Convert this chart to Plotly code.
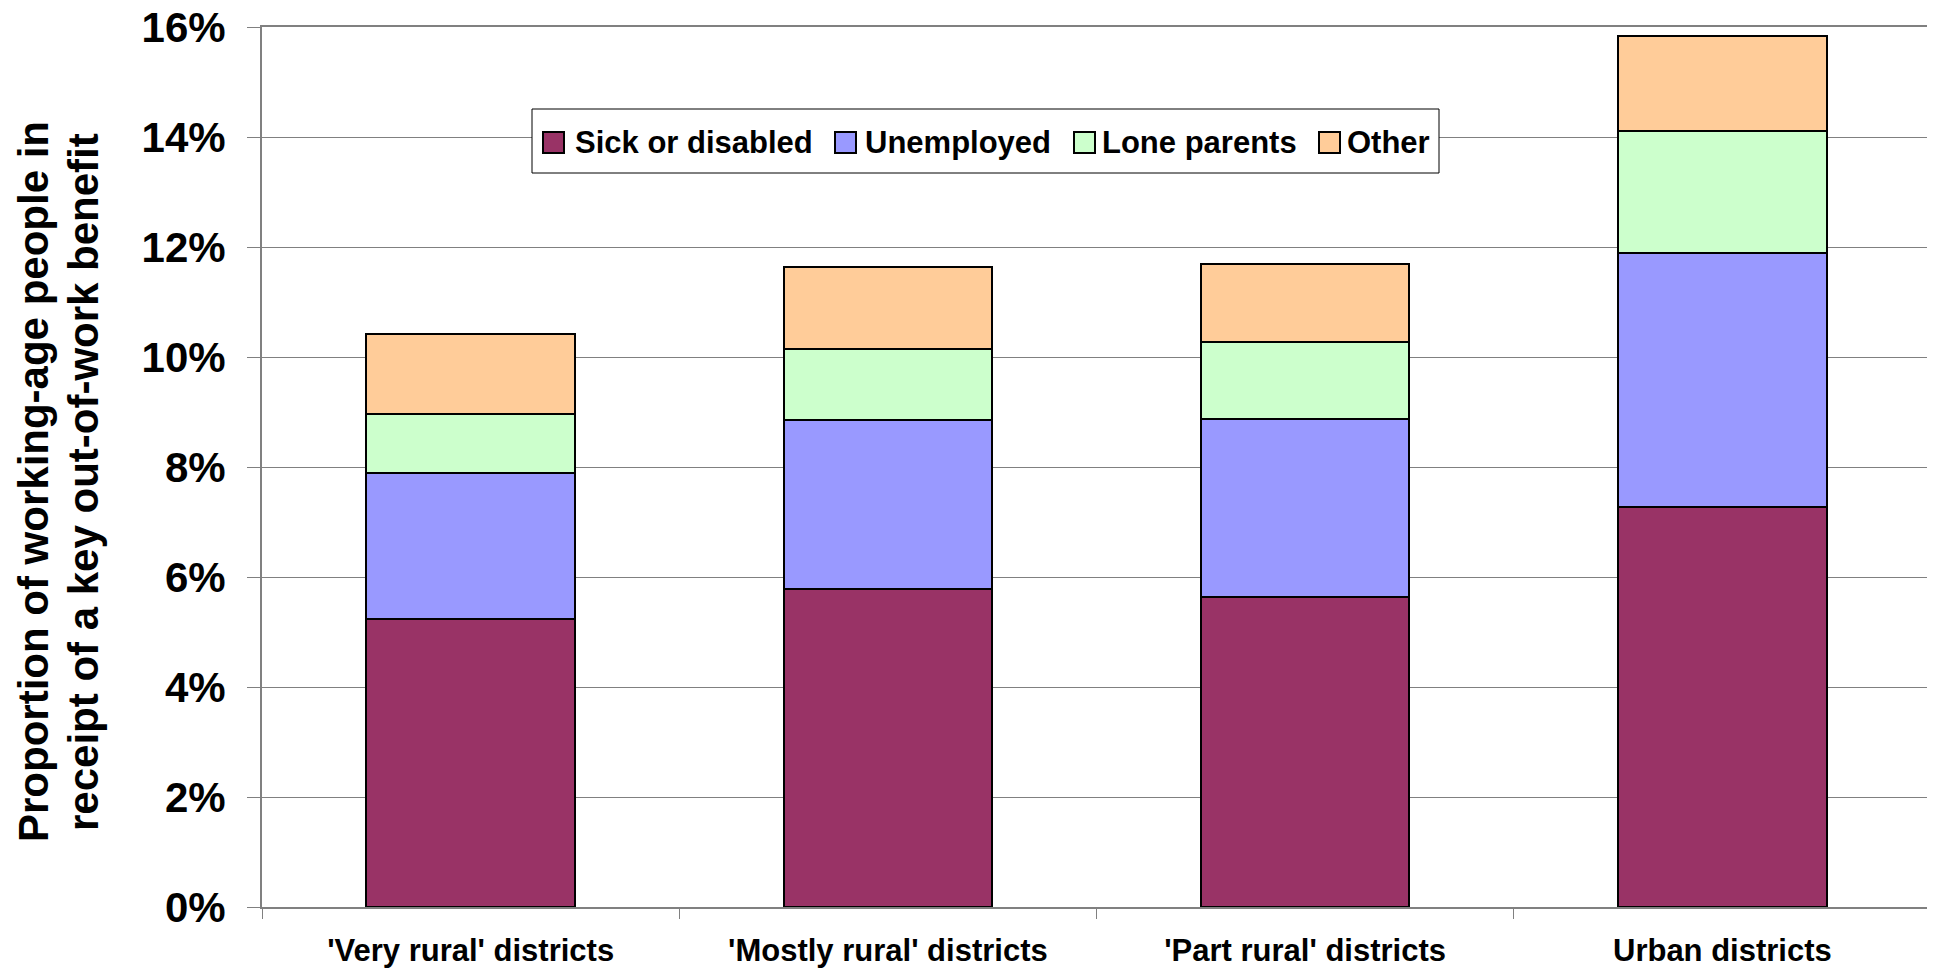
import plotly.graph_objects as go

categories = ["'Very rural' districts", "'Mostly rural' districts", "'Part rural' districts", "Urban districts"]
sick = [5.24, 5.79, 5.63, 7.27]
unemployed = [2.65, 3.06, 3.24, 4.63]
lone_parents = [1.07, 1.29, 1.40, 2.21]
other = [1.46, 1.49, 1.42, 1.73]

series_names = ["Sick or disabled", "Unemployed", "Lone parents", "Other"]
series_values = [sick, unemployed, lone_parents, other]
colors = ["#993366", "#9999FF", "#CCFFCC", "#FFCC99"]
y_ticks = [0, 2, 4, 6, 8, 10, 12, 14, 16]
y_tick_labels = [f"{v}%" for v in y_ticks]
y_title_lines = ["Proportion of working-age people in", "receipt of a key out-of-work benefit"]

FONT = "Arial, 'Liberation Sans', sans-serif"

# page geometry (screen pixels; the page body adds an 8px offset)
W, H = 1935, 971
OFF = 8
PL, PR, PT, PB = 262, 1931, 27, 907  # plot area on screen


def px(xs):
    return (xs - PL) / (PR - PL)


def py(ys):
    return (PB - ys) / (PB - PT)


fig = go.Figure()
for name, vals, col in zip(series_names, series_values, colors):
    fig.add_trace(go.Bar(
        x=categories, y=vals, name=name,
        marker=dict(color=col, line=dict(color="black", width=2)),
    ))

fig.update_layout(
    width=W, height=H,
    barmode="stack", bargap=0.5,
    margin=dict(l=PL - OFF, r=W - (PR - OFF), t=PT - OFF, b=H - (PB - OFF), pad=0, autoexpand=False),
    paper_bgcolor="white", plot_bgcolor="white",
    font=dict(family=FONT, color="black"),
    showlegend=False,
    xaxis=dict(
        type="category", tickson="boundaries", ticks="outside", ticklen=10,
        tickcolor="#808080", tickwidth=1,
        showline=True, linecolor="#808080", linewidth=2, mirror=True,
        showgrid=False, automargin=False, ticklabeloverflow="allow",
        tickfont=dict(size=31, family=FONT, color="black", weight="bold"),
        ticklabelstandoff=15,
    ),
    yaxis=dict(
        range=[0, 16], tickvals=y_ticks, ticktext=y_tick_labels,
        ticks="outside", ticklen=13, tickcolor="#808080", tickwidth=1,
        showline=True, linecolor="#808080", linewidth=2, mirror=True,
        showgrid=True, gridcolor="#808080", gridwidth=1,
        automargin=False, ticklabeloverflow="allow",
        tickfont=dict(size=42, family=FONT, color="black", weight="bold"),
        ticklabelstandoff=13,
        zeroline=False,
    ),
)

# y-axis title: two lines placed individually for tight line spacing
for line, xs in zip(y_title_lines, [33, 83]):
    fig.add_annotation(
        text=line, xref="paper", yref="paper",
        x=px(xs), y=py(482), xanchor="center", yanchor="middle",
        textangle=-90, showarrow=False,
        font=dict(size=42, family=FONT, color="black", weight="bold"),
    )

# legend box (drawn manually to match the original's swatch size and spacing)
fig.add_shape(type="rect", xref="paper", yref="paper",
              x0=px(532), x1=px(1439), y0=py(173), y1=py(109),
              fillcolor="white", line=dict(color="black", width=1), layer="above")
swatch_x = [543, 835, 1074, 1319]
text_x = [573, 863, 1100, 1345]
for name, col, sx, tx in zip(series_names, colors, swatch_x, text_x):
    fig.add_shape(type="rect", xref="paper", yref="paper",
                  x0=px(sx), x1=px(sx + 21), y0=py(153), y1=py(132),
                  fillcolor=col, line=dict(color="black", width=2), layer="above")
    fig.add_annotation(
        text=name, xref="paper", yref="paper", x=px(tx), y=py(142),
        xanchor="left", yanchor="middle", showarrow=False,
        font=dict(size=31, family=FONT, color="black", weight="bold"),
    )

fig.write_html("out.html")
